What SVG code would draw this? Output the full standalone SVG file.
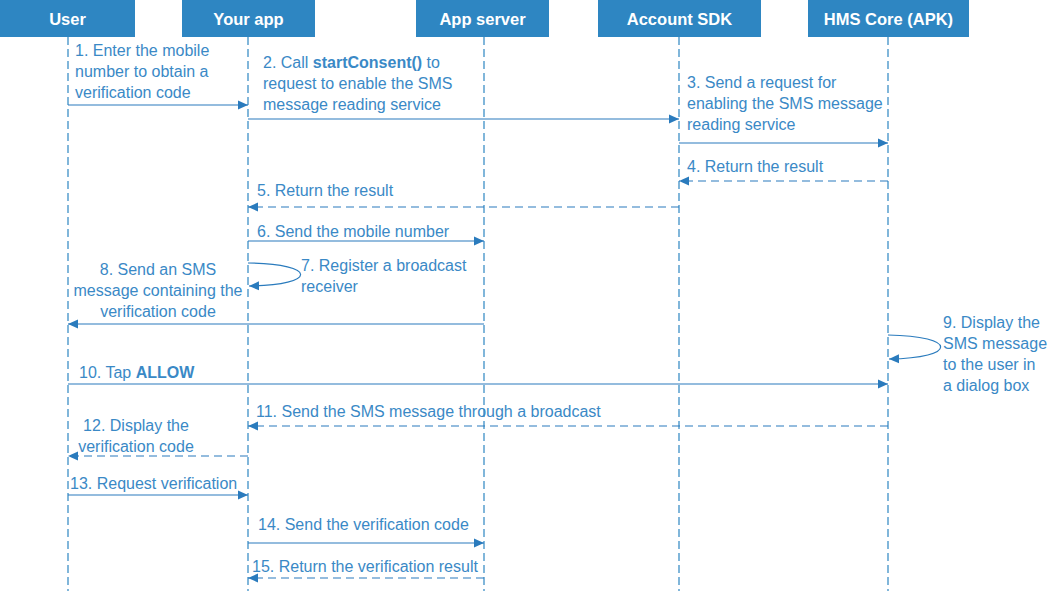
<svg xmlns="http://www.w3.org/2000/svg" width="1052" height="591" viewBox="0 0 1052 591">
<style>
.hdr{fill:#2e86c2}
.ht{fill:#ffffff;font-family:"Liberation Sans",Arial,sans-serif;font-size:16.5px;font-weight:bold;text-anchor:middle}
.life{stroke:#2e86c2;stroke-width:1.2;stroke-dasharray:8,4;fill:none}
.msg{stroke:#2a7bbd;stroke-width:1.2;fill:none;marker-end:url(#ah)}
.dash{stroke-dasharray:8,5}
.t{fill:#3a89c6;font-family:"Liberation Sans",Arial,sans-serif;font-size:16px}
.c{text-anchor:middle}
.b{font-weight:bold}
</style>
<defs>
<marker id="ah" markerUnits="userSpaceOnUse" markerWidth="11" markerHeight="11" refX="10" refY="5" orient="auto">
<path d="M0,0.5 L10,5 L0,9.5 z" fill="#2a7bbd"/>
</marker>
</defs>
<rect width="1052" height="591" fill="#ffffff"/>
<g id="user"><rect class="hdr" x="0" y="0" width="135" height="37"/><text class="ht" x="67.5" y="25">User</text><line class="life" x1="68" y1="37" x2="68" y2="591"/></g>
<g id="yourapp"><rect class="hdr" x="182" y="0" width="133" height="37"/><text class="ht" x="248.5" y="25">Your app</text><line class="life" x1="248" y1="37" x2="248" y2="591"/></g>
<g id="appserver"><rect class="hdr" x="416" y="0" width="133" height="37"/><text class="ht" x="482.5" y="25">App server</text><line class="life" x1="484" y1="37" x2="484" y2="591"/></g>
<g id="accountsdk"><rect class="hdr" x="598" y="0" width="163" height="37"/><text class="ht" x="679.5" y="25">Account SDK</text><line class="life" x1="679" y1="37" x2="679" y2="591"/></g>
<g id="hmscore"><rect class="hdr" x="808" y="0" width="161" height="37"/><text class="ht" x="888.5" y="25">HMS Core (APK)</text><line class="life" x1="888" y1="37" x2="888" y2="591"/></g>
<g id="connectors">
<line class="msg" x1="68" y1="105" x2="248" y2="105"/>
<line class="msg" x1="248" y1="119" x2="679" y2="119"/>
<line class="msg" x1="679" y1="143" x2="888" y2="143"/>
<line class="msg dash" x1="888" y1="181" x2="679" y2="181"/>
<line class="msg dash" x1="679" y1="207" x2="248" y2="207"/>
<line class="msg" x1="248" y1="241" x2="484" y2="241"/>
<path class="msg" d="M248,263 C318,264 318,285 249,286"/>
<line class="msg" x1="484" y1="324" x2="68" y2="324"/>
<path class="msg" d="M888,335 C958,336 958,358 889,359"/>
<line class="msg" x1="68" y1="384" x2="888" y2="384"/>
<line class="msg dash" x1="888" y1="426" x2="248" y2="426"/>
<line class="msg dash" x1="248" y1="456" x2="68" y2="456"/>
<line class="msg" x1="68" y1="495" x2="248" y2="495"/>
<line class="msg" x1="248" y1="543" x2="484" y2="543"/>
<line class="msg dash" x1="484" y1="578" x2="248" y2="578"/>
</g>
<g id="labels">
<text class="t" x="75" y="56">1. Enter the mobile</text>
<text class="t" x="75" y="77">number to obtain a</text>
<text class="t" x="75" y="98">verification code</text>
<text class="t" x="263" y="68">2. Call <tspan class="b">startConsent()</tspan> to</text>
<text class="t" x="263" y="89">request to enable the SMS</text>
<text class="t" x="263" y="110">message reading service</text>
<text class="t" x="687" y="88">3. Send a request for</text>
<text class="t" x="687" y="109">enabling the SMS message</text>
<text class="t" x="687" y="130">reading service</text>
<text class="t" x="687" y="172">4. Return the result</text>
<text class="t" x="257" y="196">5. Return the result</text>
<text class="t" x="257" y="237">6. Send the mobile number</text>
<text class="t" x="301" y="271">7. Register a broadcast</text>
<text class="t" x="301" y="292">receiver</text>
<text class="t c" x="158" y="275">8. Send an SMS</text>
<text class="t c" x="158" y="296">message containing the</text>
<text class="t c" x="158" y="317">verification code</text>
<text class="t" x="943" y="328">9. Display the</text>
<text class="t" x="943" y="349">SMS message</text>
<text class="t" x="943" y="370">to the user in</text>
<text class="t" x="943" y="391">a dialog box</text>
<text class="t" x="79" y="378">10. Tap <tspan class="b">ALLOW</tspan></text>
<text class="t" x="256" y="417">11. Send the SMS message through a broadcast</text>
<text class="t c" x="136" y="431">12. Display the</text>
<text class="t c" x="136" y="452">verification code</text>
<text class="t" x="70" y="489">13. Request verification</text>
<text class="t" x="258" y="530">14. Send the verification code</text>
<text class="t" x="252" y="572">15. Return the verification result</text>
</g>
</svg>
